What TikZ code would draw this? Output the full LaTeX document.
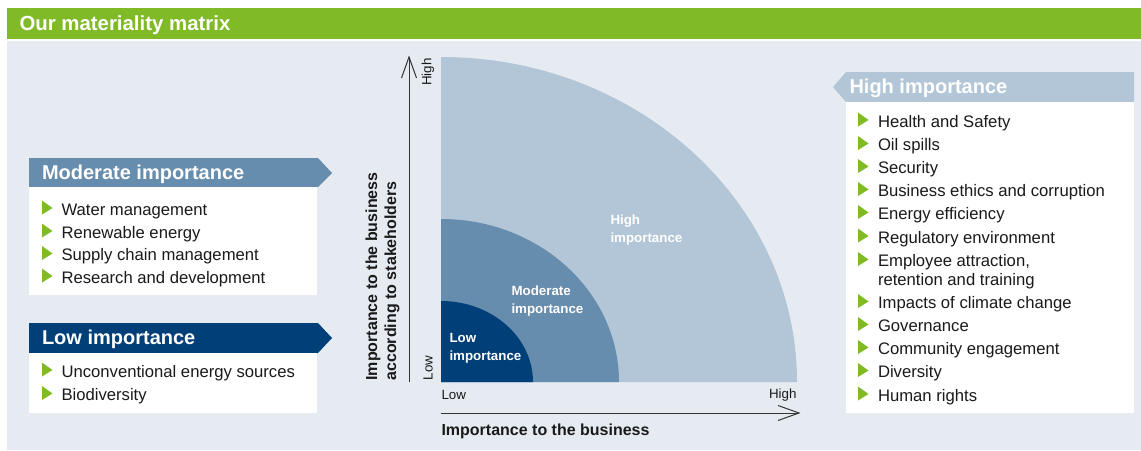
\documentclass[tikz,border=0pt]{standalone}
\usepackage{fontspec}
\setmainfont{Liberation Sans}

\definecolor{matgreen}{RGB}{128,186,39}
\definecolor{matbg}{RGB}{230,235,242}
\definecolor{highblue}{RGB}{179,198,215}
\definecolor{modblue}{RGB}{103,141,174}
\definecolor{lowblue}{RGB}{0,63,120}
\definecolor{itemblack}{RGB}{26,26,26}
\definecolor{axisgray}{RGB}{51,51,51}

\tikzset{every picture/.style={line width=0.75pt}}
\tikzset{
  titletext/.style={anchor=base west, inner sep=0pt, text=white, font=\fontsize{15.3}{18}\selectfont\bfseries},
  headtext/.style={anchor=base west, inner sep=0pt, text=white, font=\fontsize{15}{18}\selectfont\bfseries},
  itemtext/.style={anchor=base west, inner sep=0pt, text=itemblack, font=\fontsize{12.5}{14.25}\selectfont},
  bulletmark/.style={fill=matgreen},
  zonetext/.style={anchor=west, inner sep=0pt, align=left, text=white, font=\fontsize{10}{13.5}\selectfont\bfseries},
  ticktext/.style={inner sep=0pt, text=itemblack, font=\fontsize{10}{12}\selectfont},
  axistitle/.style={inner sep=0pt, align=left, text=itemblack, font=\fontsize{12}{14.3}\selectfont\bfseries},
  axisline/.style={draw=axisgray, line width=0.75pt}
}

\begin{document}
\begin{tikzpicture}[x=0.75pt,y=0.75pt,yscale=-1,xscale=1]
        \useasboundingbox (0,0) rectangle (1141,450);
        %Shape: Rectangle [page]
        \fill [white] (0,0) rectangle (1141,450);
        %Shape: Rectangle [title band]
        \fill [matgreen] (7,8) rectangle (1141,39);
        %Shape: Rectangle [panel]
        \fill [matbg] (7,41) rectangle (1141,450);
        % Text Node
        \draw (19,30.5) node [titletext] (title) {Our materiality matrix};

        %Shape: Arrow head box [moderate]
        \fill [modblue] (29,158) -- (318,158) -- (332,173) -- (318,187) -- (29,187) -- cycle;
        %Shape: Rectangle
        \fill [white] (29,187) rectangle (317,295);
        % Text Node
        \draw (41.5,179) node [headtext] (mod_head) {Moderate importance};
        %Shape: Triangle
        \fill [bulletmark] (42,200.5) -- (52.5,208) -- (42,214.5) -- cycle;
        \draw (61,215) node [itemtext] (mod_water) {Water management};
        %Shape: Triangle
        \fill [bulletmark] (42,223.5) -- (52.5,231) -- (42,237.5) -- cycle;
        \draw (61,238) node [itemtext] (mod_renew) {Renewable energy};
        %Shape: Triangle
        \fill [bulletmark] (42,246) -- (52.5,253.5) -- (42,260) -- cycle;
        \draw (61,260.5) node [itemtext] (mod_supply) {Supply chain management};
        %Shape: Triangle
        \fill [bulletmark] (42,268.5) -- (52.5,276) -- (42,282.5) -- cycle;
        \draw (61,283) node [itemtext] (mod_research) {Research and development};

        %Shape: Arrow head box [low]
        \fill [lowblue] (29,323) -- (318,323) -- (332,338) -- (318,353) -- (29,353) -- cycle;
        %Shape: Rectangle
        \fill [white] (29,353) rectangle (317,413);
        % Text Node
        \draw (41.5,344.5) node [headtext] (low_head) {Low importance};
        %Shape: Triangle
        \fill [bulletmark] (42,362.5) -- (52.5,370) -- (42,376.5) -- cycle;
        \draw (61,377) node [itemtext] (low_unconv) {Unconventional energy sources};
        %Shape: Triangle
        \fill [bulletmark] (42,386) -- (52.5,393.5) -- (42,400) -- cycle;
        \draw (61,400.5) node [itemtext] (low_bio) {Biodiversity};

        %Shape: Arrow head box [high]
        \fill [highblue] (846,72) -- (1134,72) -- (1134,102) -- (846,102) -- (833,87) -- cycle;
        %Shape: Rectangle
        \fill [white] (846,102) rectangle (1134,413);
        % Text Node
        \draw (849,93.5) node [headtext] (high_head) {High importance};
        %Shape: Triangle
        \fill [bulletmark] (858,112.5) -- (868.5,120) -- (858,126.5) -- cycle;
        \draw (877.5,127) node [itemtext] (high_health) {Health and Safety};
        %Shape: Triangle
        \fill [bulletmark] (858,136) -- (868.5,143.5) -- (858,150) -- cycle;
        \draw (877.5,150.5) node [itemtext] (high_oil) {Oil spills};
        %Shape: Triangle
        \fill [bulletmark] (858,159) -- (868.5,166.5) -- (858,173) -- cycle;
        \draw (877.5,173.5) node [itemtext] (high_security) {Security};
        %Shape: Triangle
        \fill [bulletmark] (858,182) -- (868.5,189.5) -- (858,196) -- cycle;
        \draw (877.5,196.5) node [itemtext] (high_ethics) {Business ethics and corruption};
        %Shape: Triangle
        \fill [bulletmark] (858,205) -- (868.5,212.5) -- (858,219) -- cycle;
        \draw (877.5,219.5) node [itemtext] (high_energy) {Energy efficiency};
        %Shape: Triangle
        \fill [bulletmark] (858,228.5) -- (868.5,236) -- (858,242.5) -- cycle;
        \draw (877.5,243) node [itemtext] (high_regul) {Regulatory environment};
        %Shape: Triangle
        \fill [bulletmark] (858,252) -- (868.5,259.5) -- (858,266) -- cycle;
        \draw (877.5,271.5) node [itemtext, anchor=west, align=left] (high_employee) {Employee attraction,\\retention and training};
        %Shape: Triangle
        \fill [bulletmark] (858,294) -- (868.5,301.5) -- (858,308) -- cycle;
        \draw (877.5,308.5) node [itemtext] (high_climate) {Impacts of climate change};
        %Shape: Triangle
        \fill [bulletmark] (858,317) -- (868.5,324.5) -- (858,331) -- cycle;
        \draw (877.5,331.5) node [itemtext] (high_gov) {Governance};
        %Shape: Triangle
        \fill [bulletmark] (858,340) -- (868.5,347.5) -- (858,354) -- cycle;
        \draw (877.5,354.5) node [itemtext] (high_community) {Community engagement};
        %Shape: Triangle
        \fill [bulletmark] (858,363) -- (868.5,370.5) -- (858,377) -- cycle;
        \draw (877.5,377.5) node [itemtext] (high_diversity) {Diversity};
        %Shape: Triangle
        \fill [bulletmark] (858,386.5) -- (868.5,394) -- (858,400.5) -- cycle;
        \draw (877.5,401) node [itemtext] (high_rights) {Human rights};

        %Shape: Quarter ellipse [high]
        \fill [highblue] (441,382) -- (797,382) arc [start angle=0, end angle=-90, x radius=356, y radius=325] -- cycle;
        %Shape: Quarter ellipse [moderate]
        \fill [modblue] (441,382) -- (619,382) arc [start angle=0, end angle=-90, x radius=178, y radius=163] -- cycle;
        %Shape: Quarter ellipse [low]
        \fill [lowblue] (441,382) -- (533,382) arc [start angle=0, end angle=-90, x radius=92, y radius=81] -- cycle;
        % Text Node
        \draw (610,230) node [zonetext] (zone_high) {High\\importance};
        % Text Node
        \draw (511,301) node [zonetext] (zone_mod) {Moderate\\importance};
        % Text Node
        \draw (449,348) node [zonetext] (zone_low) {Low\\importance};

        \coordinate (y_start) at (409,382);
        \coordinate (y_end) at (409,57);
        \coordinate (x_start) at (441,413);
        \coordinate (x_end) at (799,413);
        %Straight Lines [y axis]
        \draw [axisline] (y_start) -- (y_end);
        \draw [axisline, shift={(409,57)}, rotate = 90] (21,-7.5) -- (0,0) -- (21,7.5);
        %Straight Lines [x axis]
        \draw [axisline] (x_start) -- (x_end);
        \draw [axisline, shift={(799,413)}, rotate = 180] (21,-7.5) -- (0,0) -- (21,7.5);

        % Text Node
        \draw (428,72) node [ticktext, rotate=90] (y_high) {High};
        % Text Node
        \draw (428,368) node [ticktext, rotate=90] (y_low) {Low};
        % Text Node
        \draw (441,395) node [ticktext, anchor=west] (x_low) {Low};
        % Text Node
        \draw (797,395) node [ticktext, anchor=east] (x_high) {High};
        % Text Node
        \draw (441,431) node [axistitle, anchor=west] (x_title) {Importance to the business};
        % Text Node
        \draw (365,381) node [axistitle, anchor=north west, rotate=90] (y_title) {Importance to the business\\according to stakeholders};
\end{tikzpicture}
\end{document}
